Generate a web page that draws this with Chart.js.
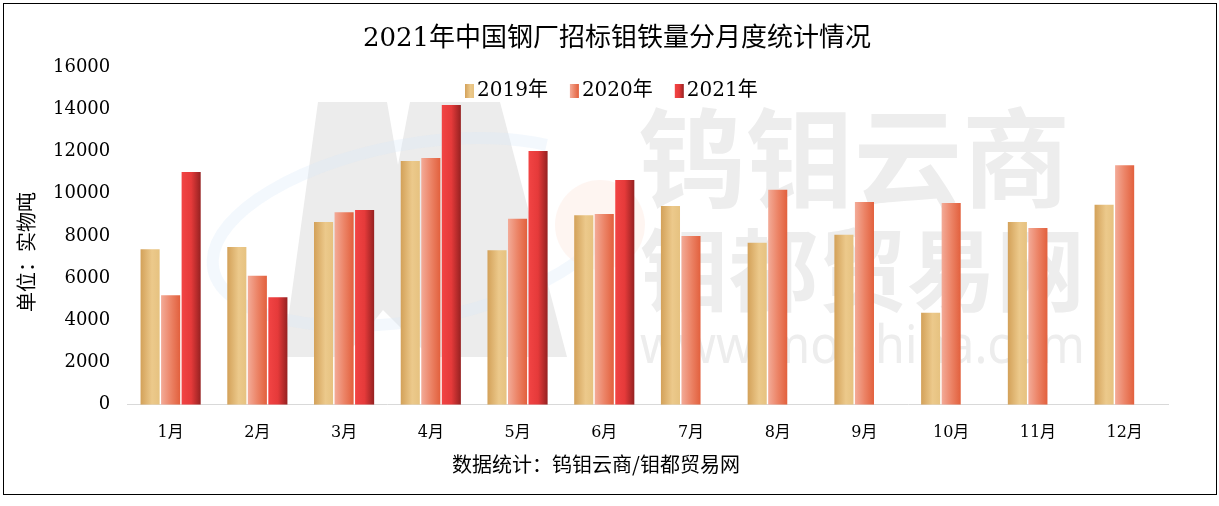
<!DOCTYPE html>
<html><head><meta charset="utf-8">
<script src="https://cdn.jsdelivr.net/npm/chart.js@4"></script>
<style>html,body{margin:0;padding:0;background:#fff;} canvas{display:block;}</style>
</head><body>
<canvas id="c" width="1219" height="506"></canvas>
<script>
// ---- data ----
const months = ['1月','2月','3月','4月','5月','6月','7月','8月','9月','10月','11月','12月'];
const seriesNames = ['2019年','2020年','2021年'];
const y2019 = [7370, 7480, 8660, 11550, 7320, 8980, 9420, 7670, 8050, 4360, 8660, 9470];
const y2020 = [5190, 6110, 9120, 11690, 8810, 9040, 8000, 10180, 9600, 9560, 8380, 11350];
const y2021 = [11030, 5100, 9230, 14200, 12020, 10650, null, null, null, null, null, null];
const yMin = 0, yMax = 16000, yStep = 2000;
const titleText = '2021年中国钢厂招标钼铁量分月度统计情况';
const yTitleText = '单位：实物吨';
const footerText = '数据统计：钨钼云商/钼都贸易网';

// ---- styles ----
const FONT = "'DejaVu Serif', 'Noto Sans CJK SC', serif";
const CJK = "'Noto Sans CJK SC', sans-serif";
const gradStops = [
  [[0,'#d3a159'],[0.6,'#ecc98b'],[1,'#e6c280']],
  [[0,'#f3ab98'],[0.5,'#ec8467'],[1,'#e2603d']],
  [[0,'#f24444'],[0.5,'#e53a3a'],[1,'#952121']]
];
const solid = ['#e4b772','#ec8467','#d83434'];

function makeGrad(ctx, x0, x1, idx) {
  const g = ctx.createLinearGradient(x0, 0, x1, 0);
  gradStops[idx].forEach(s => g.addColorStop(s[0], s[1]));
  return g;
}

const gradientPlugin = {
  id: 'barGradients',
  beforeDatasetsDraw(chart) {
    chart.data.datasets.forEach((ds, di) => {
      const meta = chart.getDatasetMeta(di);
      meta.data.forEach(el => {
        if (el.x == null || isNaN(el.x)) return;
        const x0 = el.x - el.width / 2, x1 = el.x + el.width / 2;
        el.options = Object.assign({}, el.options, {backgroundColor: makeGrad(chart.ctx, x0, x1, di)});
      });
    });
  }
};

const decorPlugin = {
  id: 'decor',
  beforeDraw(chart) {
    const ctx = chart.ctx;
    ctx.save();
    ctx.fillStyle = '#fff';
    ctx.fillRect(0, 0, chart.width, chart.height);
    // watermark logo
    ctx.fillStyle = '#ececec';
    ctx.beginPath();
    [[283,357],[318,102],[387,102],[398,165],[410,102],[500,102],[567,357],[430,357],[383,310],[345,357]]
      .forEach((p, i) => i ? ctx.lineTo(p[0], p[1]) : ctx.moveTo(p[0], p[1]));
    ctx.closePath(); ctx.fill();
    ctx.strokeStyle = 'rgba(215,232,248,0.3)';
    ctx.lineWidth = 12;
    ctx.beginPath();
    ctx.ellipse(415, 232, 205, 88, -0.18, Math.PI * 0.15, Math.PI * 1.75);
    ctx.stroke();
    ctx.fillStyle = 'rgba(253,235,228,0.5)';
    ctx.beginPath(); ctx.arc(600, 225, 45, 0, Math.PI * 2); ctx.fill();
    // watermark text
    ctx.fillStyle = '#ededed';
    ctx.textAlign = 'left'; ctx.textBaseline = 'middle';
    ctx.font = "bold 108px " + CJK;
    ctx.fillText('钨钼云商', 638, 158, 445);
    ctx.font = "bold 90px " + CJK;
    ctx.fillText('钼都贸易网', 640, 270, 445);
    ctx.font = "52px 'Noto Sans', sans-serif";
    ctx.fillText('www.molchina.com', 640, 348, 445);
    // frame
    ctx.strokeStyle = '#000'; ctx.lineWidth = 1;
    ctx.strokeRect(3.5, 3.5, 1213, 491);
    ctx.restore();
  },
  afterDraw(chart) {
    const ctx = chart.ctx;
    ctx.save();
    ctx.fillStyle = '#000';
    ctx.textBaseline = 'middle';
    // title
    ctx.textAlign = 'center';
    ctx.font = "26px " + FONT;
    ctx.fillText(titleText, 617, 39);
    // footer
    ctx.font = "20px " + CJK;
    ctx.fillText(footerText, 596, 464);
    // y-axis title
    ctx.save();
    ctx.translate(26, 252);
    ctx.rotate(-Math.PI / 2);
    ctx.font = "20px " + CJK;
    ctx.fillText(yTitleText, 0, 0);
    ctx.restore();
    // legend
    ctx.textAlign = 'left';
    ctx.font = "20px " + FONT;
    let x = 465;
    const ly = 91;
    seriesNames.forEach((name, i) => {
      ctx.fillStyle = makeGrad(ctx, x, x + 9, i);
      ctx.fillRect(x, ly - 7, 9, 14);
      ctx.fillStyle = '#000';
      ctx.fillText(name, x + 12, ly);
      x += 12 + ctx.measureText(name).width + 22;
    });
    ctx.restore();
  }
};

new Chart(document.getElementById('c'), {
  type: 'bar',
  data: {
    labels: months,
    datasets: [
      {label: seriesNames[0], data: y2019, backgroundColor: solid[0]},
      {label: seriesNames[1], data: y2020, backgroundColor: solid[1]},
      {label: seriesNames[2], data: y2021, backgroundColor: solid[2]}
    ]
  },
  options: {
    responsive: false,
    animation: false,
    events: [],
    datasets: {bar: {categoryPercentage: 0.71, barPercentage: 0.93, borderWidth: 0}},
    layout: {padding: {left: 36, right: 51, top: 67, bottom: 46}},
    plugins: {legend: {display: false}, title: {display: false}, tooltip: {enabled: false}},
    scales: {
      x: {
        grid: {display: false, drawTicks: false},
        border: {display: true, color: '#d9d9d9', width: 1},
        ticks: {color: '#000', font: {family: FONT, size: 16}, padding: 18, maxRotation: 0}
      },
      y: {
        min: yMin, max: yMax,
        grid: {display: false, drawTicks: false},
        border: {display: false},
        ticks: {stepSize: yStep, color: '#000', font: {family: FONT, size: 18}, padding: 17,
                callback: v => String(v)}
      }
    }
  },
  plugins: [decorPlugin, gradientPlugin]
});
</script>
</body></html>
